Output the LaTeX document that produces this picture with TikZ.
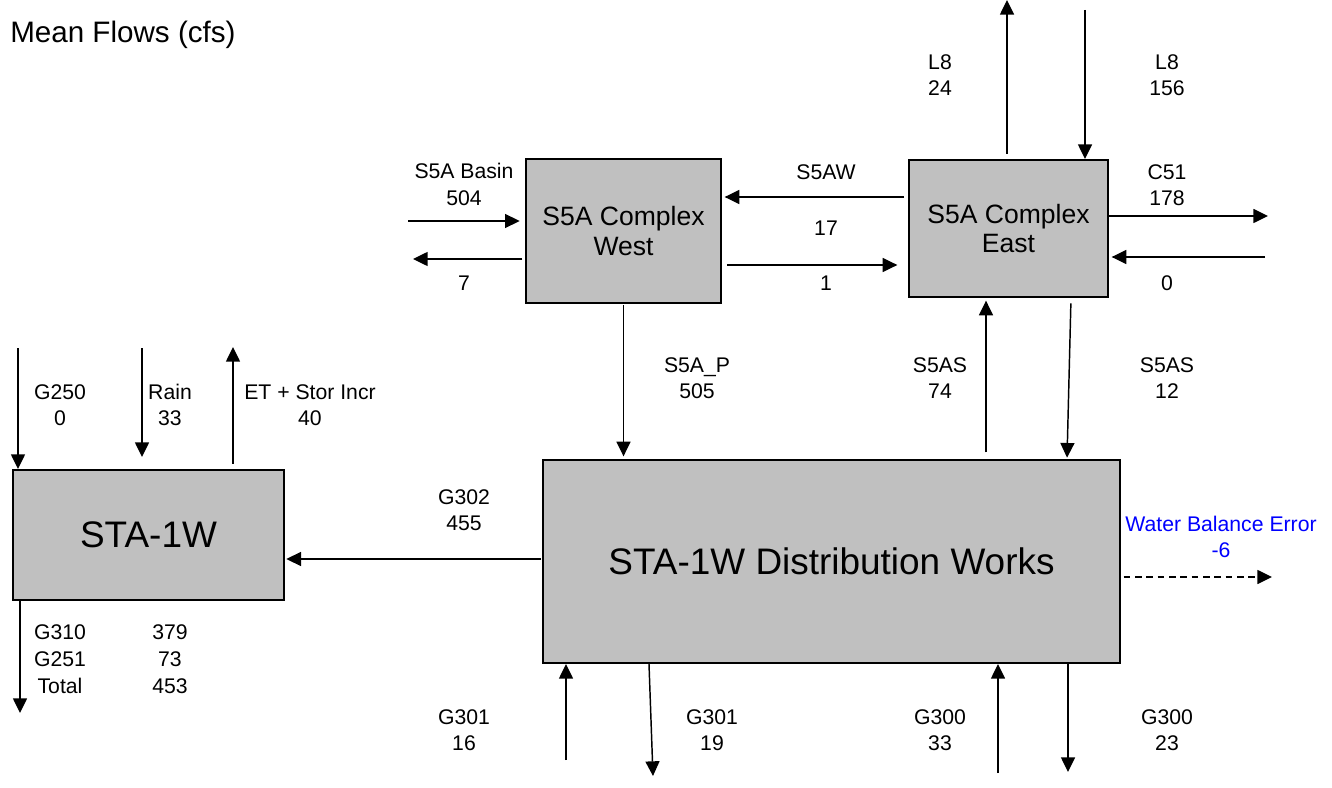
\documentclass[tikz,border=0pt]{standalone}
\usepackage{fontspec}
\setmainfont{Liberation Sans}
\usetikzlibrary{arrows.meta}

\tikzset{
	flow/.style={line width=1.1pt, -{Triangle[length=11pt,width=10.5pt]}},
	basin/.style={draw=black, line width=1.5pt, fill={rgb,255:red,192;green,192;blue,192}, inner sep=0pt, align=center},
	lbl/.style={font=\fontsize{15.9}{19.8}\selectfont, align=center, inner sep=0pt},
	bigtxt/.style={font=\fontsize{27.7}{32}\selectfont},
	midtxt/.style={font=\fontsize{19.9}{21.8}\selectfont}}

\begin{document}
\begin{tikzpicture}[x=0.75pt,y=0.75pt,yscale=-1,xscale=1]
	\useasboundingbox (0,0) rectangle (1332,788);

	% Title
	\node[font=\fontsize{22.2}{26}\selectfont, anchor=base west, inner sep=0pt] (title) at (10,43) {Mean Flows (cfs)};

	%Shape: boxes
	\node[basin, bigtxt, minimum width=203.25pt, minimum height=97.5pt] (sta) at (148.5,535) {STA-1W};
	\node[basin, bigtxt, minimum width=432.75pt, minimum height=152.25pt] (dist) at (831.5,561.5) {STA-1W Distribution Works};
	\node[basin, midtxt, minimum width=146.25pt, minimum height=108pt] (west) at (623.5,231) {S5A Complex\\West};
	\node[basin, midtxt, minimum width=149.25pt, minimum height=102.75pt] (east) at (1008.5,228.5) {S5A Complex\\East};

	% free ends
	\coordinate (bin) at (408,221);
	\coordinate (wout) at (413,259);
	\coordinate (s5aw) at (800,197);
	\coordinate (one) at (800,265);
	\coordinate (l8o) at (1007,0);
	\coordinate (l8i) at (1085,10);
	\coordinate (c51) at (1268,216);
	\coordinate (zin) at (1265,257);
	\coordinate (asu) at (986,0);
	\coordinate (asd) at (1071,0);
	\coordinate (asd2) at (1067,0);
	\coordinate (g250) at (18,348);
	\coordinate (rain) at (142,348);
	\coordinate (et) at (233,347);
	\coordinate (g302) at (400,559);
	\coordinate (tot) at (20,713);
	\coordinate (g301i) at (566,760);
	\coordinate (g301a) at (649,0);
	\coordinate (g301o) at (653,776);
	\coordinate (g300i) at (998,773);
	\coordinate (g300o) at (1068,772);
	\coordinate (wbe) at (1272,577);

	%Straight Lines: S5A Complex West
	\draw[flow, shorten >=4pt] (bin) -- (bin -| west.west);
	\draw[flow, shorten <=2pt] (west.west |- wout) -- (wout);
	\draw[flow, shorten <=3pt, shorten >=2pt] (east.west |- s5aw) -- (west.east |- s5aw);
	\draw[flow, shorten <=4pt, shorten >=8pt] (west.east |- one) -- (east.west |- one);
	%Straight Lines: S5A Complex East
	\draw[flow, shorten <=4pt] (east.north -| l8o) -- (l8o);
	\draw[flow] (l8i) -- (l8i |- east.north);
	\draw[flow] (east.east |- c51) -- (c51);
	\draw[flow, shorten >=2pt] (zin) -- (zin -| east.east);
	%Straight Lines: between boxes
	\draw[flow, shorten <=1pt, shorten >=2pt] (west.south) -- (west.south |- dist.north);
	\draw[flow, shorten <=5pt, shorten >=2pt] (dist.north -| asu) -- (east.south -| asu);
	\draw[flow, shorten <=4pt, shorten >=1pt] (east.south -| asd) -- (dist.north -| asd2);
	%Straight Lines: STA-1W
	\draw[flow] (g250) -- (g250 |- sta.north);
	\draw[flow, shorten >=9pt] (rain) -- (rain |- sta.north);
	\draw[flow, shorten <=4pt] (sta.north -| et) -- (et);
	\draw[flow, shorten <=1pt, shorten >=1pt] (dist.west |- g302) -- (sta.east |- g302);
	\draw[flow] (sta.south -| tot) -- (tot);
	%Straight Lines: bottom
	\draw[flow] (g301i) -- (g301i |- dist.south);
	\draw[flow] (dist.south -| g301a) -- (g301o);
	\draw[flow] (g300i) -- (g300i |- dist.south);
	\draw[flow] (dist.south -| g300o) -- (g300o);
	\draw[line width=1.1pt, dash pattern=on 5pt off 3.5pt, -{Triangle[length=11pt,width=10.5pt]}, shorten <=2pt] (dist.east |- wbe) -- (wbe);

	% Text Node
	\node[lbl] (lbasin) at (464,184.5) {S5A Basin\\504};
	\node[lbl] (lwout) at (464,283) {7};
	\node[lbl] (ls5aw) at (826,172) {S5AW};
	\node[lbl] (lseven) at (826,228) {17};
	\node[lbl] (lone) at (826,283) {1};
	\node[lbl] (ll8o) at (940,75) {L8\\24};
	\node[lbl] (ll8i) at (1167,75) {L8\\156};
	\node[lbl] (lc51) at (1167,185) {C51\\178};
	\node[lbl] (lzin) at (1167,283) {0};
	\node[lbl] (lsp) at (697,378) {S5A\_P\\505};
	\node[lbl] (lasu) at (940,378) {S5AS\\74};
	\node[lbl] (lasd) at (1167,378) {S5AS\\12};
	\node[lbl] (lg250) at (60,405) {G250\\0};
	\node[lbl] (lrain) at (170,405) {Rain\\33};
	\node[lbl] (let) at (310,405) {ET + Stor Incr\\40};
	\node[lbl] (lg302) at (464,510) {G302\\455};
	\node[lbl, font=\fontsize{15.9}{20.2}\selectfont] (ltname) at (60,659) {G310\\G251\\Total};
	\node[lbl, font=\fontsize{15.9}{20.2}\selectfont] (ltval) at (170,659) {379\\73\\453};
	\node[lbl] (lg301i) at (464,730) {G301\\16};
	\node[lbl] (lg301o) at (712,730) {G301\\19};
	\node[lbl] (lg300i) at (940,730) {G300\\33};
	\node[lbl] (lg300o) at (1167,730) {G300\\23};
	\node[lbl, text=blue] (lwbe) at (1221,537) {Water Balance Error\\-6};

\end{tikzpicture}
\end{document}
